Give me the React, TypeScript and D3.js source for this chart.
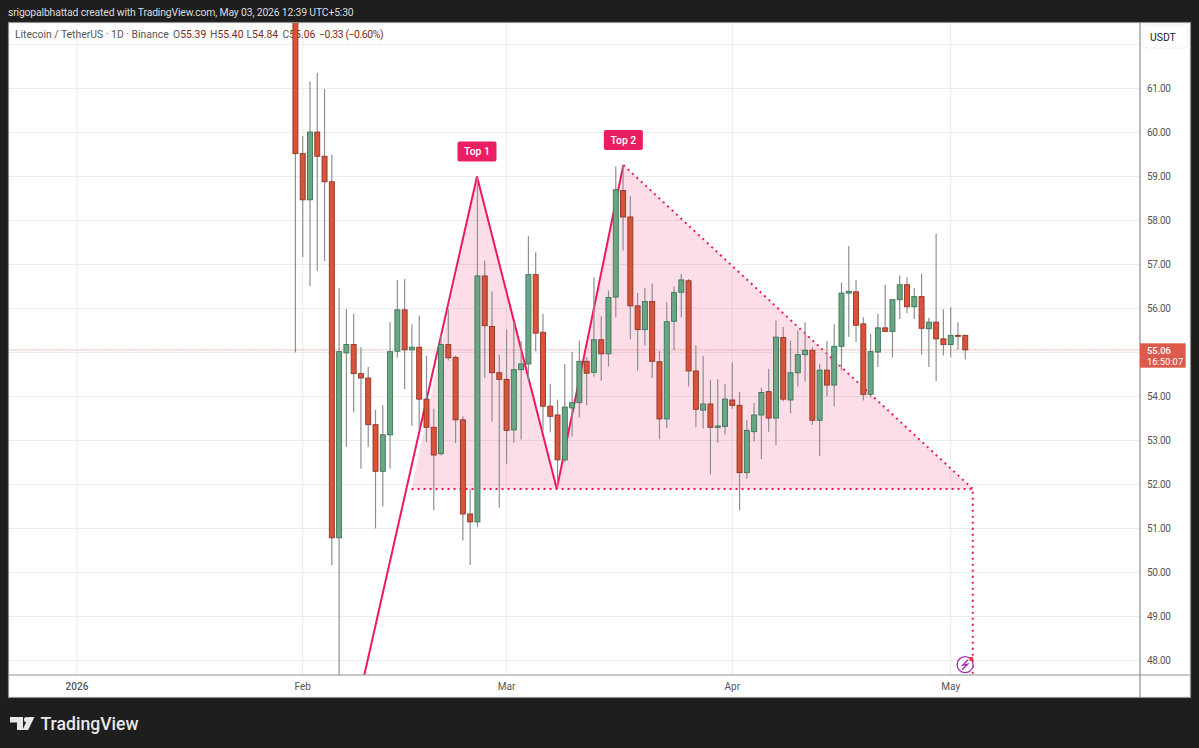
import * as d3 from 'd3';

const FONT = 'Roboto, "Noto Sans", sans-serif';

// one candle per day, counted from Feb 1 2026 (first candle is Jan 31)
const firstDay = -1;
const opens = [64.0, 59.52, 58.47, 60.01, 59.46, 58.88, 50.79, 54.99, 55.18, 54.52, 54.42, 53.36, 52.3, 53.13, 55.03, 55.97, 55.06, 55.12, 53.94, 53.3, 52.7, 55.18, 54.89, 53.47, 51.33, 51.15, 56.74, 55.59, 54.54, 54.39, 53.24, 54.61, 54.74, 56.77, 55.46, 53.78, 53.58, 52.56, 53.74, 53.86, 54.8, 54.55, 55.29, 54.97, 56.26, 58.68, 58.08, 56.06, 55.52, 56.16, 54.79, 53.49, 55.71, 56.37, 56.63, 54.58, 53.69, 53.83, 53.3, 53.32, 53.92, 53.8, 52.27, 53.2, 53.58, 54.11, 53.51, 55.34, 53.92, 54.54, 54.95, 55.05, 53.46, 54.6, 54.26, 55.14, 56.35, 56.38, 55.65, 54.05, 55.01, 55.56, 55.48, 56.2, 56.54, 56.04, 56.27, 55.54, 55.69, 55.31, 55.18, 55.39, 55.39];
const highs = [65.0, 59.92, 61.16, 61.36, 60.99, 59.49, 56.46, 55.99, 55.88, 55.12, 54.67, 53.7, 53.8, 55.69, 56.65, 56.67, 55.64, 55.84, 54.93, 53.72, 55.39, 55.99, 54.93, 53.55, 51.9, 58.98, 57.09, 56.39, 54.95, 55.52, 55.69, 55.26, 57.64, 57.27, 55.88, 54.29, 53.93, 54.74, 55.01, 55.27, 54.9, 56.71, 55.82, 56.41, 59.23, 59.25, 58.55, 56.35, 56.47, 56.57, 55.03, 56.14, 56.5, 56.79, 56.67, 55.16, 54.92, 54.38, 54.39, 54.29, 54.77, 54.1, 53.47, 53.85, 54.2, 54.63, 55.73, 55.58, 55.27, 55.5, 55.69, 55.12, 54.74, 55.26, 55.64, 56.59, 57.42, 56.65, 55.8, 55.42, 55.88, 56.54, 56.2, 56.75, 56.71, 56.46, 56.79, 55.79, 57.7, 55.98, 56.03, 55.69, 55.4];
const lows = [55.0, 57.17, 56.51, 56.86, 57.08, 50.17, 47.3, 52.86, 53.64, 52.36, 52.85, 51.0, 51.5, 52.36, 54.88, 54.17, 53.33, 53.23, 52.96, 51.42, 52.66, 54.82, 52.94, 50.73, 50.17, 51.03, 54.42, 53.43, 51.47, 52.47, 52.95, 53.02, 54.36, 55.03, 53.23, 53.19, 51.9, 52.51, 53.09, 53.53, 53.8, 54.45, 54.36, 54.68, 55.8, 57.32, 55.3, 54.59, 55.16, 54.42, 53.03, 53.28, 55.05, 55.8, 54.23, 53.3, 53.27, 52.23, 52.95, 53.13, 53.72, 51.41, 52.13, 52.98, 52.58, 53.2, 52.9, 53.89, 53.62, 54.23, 54.34, 53.35, 52.65, 54.0, 53.78, 54.59, 55.35, 55.24, 53.91, 53.98, 54.67, 55.48, 54.89, 55.76, 55.89, 55.76, 54.95, 54.67, 54.35, 54.93, 54.89, 55.06, 54.84];
const closes = [59.52, 58.47, 60.01, 59.46, 58.88, 50.79, 55.02, 55.18, 54.52, 54.42, 53.36, 52.3, 53.13, 55.02, 55.97, 55.06, 55.12, 53.94, 53.3, 52.67, 55.18, 54.88, 53.47, 51.33, 51.15, 56.74, 55.61, 54.54, 54.39, 53.23, 54.61, 54.74, 56.77, 55.44, 53.78, 53.55, 52.56, 53.76, 53.86, 54.8, 54.53, 55.29, 54.97, 56.25, 58.7, 58.08, 56.06, 55.52, 56.16, 54.8, 53.49, 55.7, 56.36, 56.65, 54.58, 53.71, 53.83, 53.3, 53.33, 53.94, 53.8, 52.27, 53.23, 53.58, 54.09, 53.51, 55.35, 53.94, 54.54, 54.95, 55.05, 53.46, 54.6, 54.26, 55.14, 56.35, 56.39, 55.62, 54.05, 55.02, 55.56, 55.48, 56.2, 56.54, 56.04, 56.27, 55.55, 55.69, 55.31, 55.18, 55.39, 55.38, 55.06];

const priceTicks = [48, 49, 50, 51, 52, 53, 54, 55, 56, 57, 58, 59, 60, 61];
const gridOnlyPrice = 62;
const dateTickDays = [-31, 0, 28, 59, 89];
const dateTickLabels = ['2026', 'Feb', 'Mar', 'Apr', 'May'];

const lastPrice = 55.06;
const countdown = '16:50:07';

// double top drawing: [day, price]
const legRise: [number, number] = [8.46, 47.67];
const top1: [number, number] = [23.94, 59.0];
const trough: [number, number] = [34.9, 51.9];
const top2: [number, number] = [44.04, 59.26];
const neckStart: [number, number] = [14.95, 51.9];
const neckEnd: [number, number] = [92.03, 51.9];
const targetEnd: [number, number] = [92.03, 47.67];

const PINK = '#f0175f';
const RED = '#d9533a';
const RED_EDGE = '#8f3526';
const GREEN = '#6ba684';
const GREEN_EDGE = '#3a7657';
const GRID = '#ececec';
const BORDER = '#8f8f8f';

const left = 8.5;
const right = 1190.5;
const top = 22.5;
const bottom = 697.5;
const axisX = 1140;
const axisY = 675;

const x = d3.scaleLinear().domain([0, 89]).range([302.7, 950.7]);
const y = d3.scaleLinear().domain([48, 61]).range([660.5, 88.5]);

export default function App() {
  const line = d3.line<[number, number]>().x((d) => x(d[0])).y((d) => y(d[1]));
  const fillPath = line([neckStart, top1, trough, top2, neckEnd]) + 'Z';
  const lx = x(targetEnd[0]);
  const iconX = x(90.98);
  const iconY = 664.7;

  return (
    <svg
      width={1199}
      height={748}
      style={{ position: 'fixed', left: 0, top: 0, display: 'block' }}
      fontFamily={FONT}
    >
      <defs>
        <clipPath id="pane">
          <rect x={left} y={top} width={axisX - left} height={axisY - top} />
        </clipPath>
      </defs>
      <rect width={1199} height={748} fill="#1e1e1e" />
      <rect x={left} y={top} width={right - left} height={bottom - top} fill="#fff" />

      <text x={8} y={15.8} fontSize={10.4} letterSpacing={-0.16} fill="#dcdcdc">
        srigopalbhattad created with TradingView.com, May 03, 2026 12:39 UTC+5:30
      </text>

      {/* grid */}
      <g stroke={GRID} strokeWidth={1}>
        {[...priceTicks, gridOnlyPrice].map((t) => (
          <line key={t} x1={left} x2={axisX} y1={y(t)} y2={y(t)} />
        ))}
        {dateTickDays.map((d) => (
          <line key={d} x1={x(d)} x2={x(d)} y1={top} y2={axisY} />
        ))}
      </g>

      {/* legend */}
      <g fontSize={10.4} fill="#555">
        <text x={15} y={38}>Litecoin / TetherUS · 1D · Binance</text>
        <text x={173} y={38}>O<tspan fill="#7a2a20">55.39</tspan></text>
        <text x={210} y={38}>H<tspan fill="#7a2a20">55.40</tspan></text>
        <text x={246.5} y={38}>L<tspan fill="#7a2a20">54.84</tspan></text>
        <text x={282.5} y={38}>C<tspan fill="#7a2a20">55.06</tspan></text>
        <text x={319} y={38} fill="#7a2a20" letterSpacing={-0.4}>−0.33 (−0.60%)</text>
      </g>

      <g clipPath="url(#pane)">
        {/* pattern */}
        <path d={fillPath} fill="#e91e63" fillOpacity={0.15} />
        <path d={line([legRise, top1, trough, top2]) ?? ''} fill="none" stroke={PINK} strokeWidth={2} />
        <path
          d={line([top2, neckEnd]) ?? ''}
          fill="none"
          stroke={PINK}
          strokeWidth={2}
          strokeDasharray="2 4"
        />
        <path
          d={line([neckStart, neckEnd, targetEnd]) ?? ''}
          fill="none"
          stroke={PINK}
          strokeWidth={2}
          strokeDasharray="2 4"
        />

        {/* last price line */}
        <line
          x1={left}
          x2={axisX}
          y1={y(lastPrice)}
          y2={y(lastPrice)}
          stroke="#e8604c"
          strokeWidth={1}
          strokeDasharray="1 2"
        />

        {/* candles */}
        {closes.map((c, i) => {
          const o = opens[i];
          const up = c >= o;
          const cx = x(firstDay + i);
          const bodyTop = y(Math.max(o, c));
          const bodyH = Math.max(1, Math.abs(y(o) - y(c)));
          return (
            <g key={i}>
              <line
                x1={cx}
                x2={cx}
                y1={y(highs[i])}
                y2={y(lows[i])}
                stroke="#8f8f8f"
                strokeWidth={1.2}
              />
              <rect
                x={cx - 2.5}
                y={bodyTop}
                width={5}
                height={bodyH}
                fill={up ? GREEN : RED}
                stroke={up ? GREEN_EDGE : RED_EDGE}
                strokeWidth={0.9}
              />
            </g>
          );
        })}
      </g>

      {/* top labels */}
      {[
        { text: 'Top 1', p: top1 },
        { text: 'Top 2', p: top2 },
      ].map((l) => (
        <g key={l.text} transform={`translate(${x(l.p[0])},${y(l.p[1]) - 25})`}>
          <rect x={-19.5} y={-10} width={39} height={20} rx={2} fill="#e91e63" />
          <text textAnchor="middle" y={3.5} fontSize={10.4} fontWeight={500} fill="#fff">
            {l.text}
          </text>
        </g>
      ))}

      {/* target marker */}
      <g>
        <circle cx={iconX} cy={iconY} r={8} fill="#fff" stroke="#9c27b0" strokeWidth={1.3} />
        <path
          d={`M${iconX + 3},${iconY - 5} L${iconX - 2.5},${iconY + 0.6} L${iconX + 2.5},${iconY - 0.6} L${iconX - 3},${iconY + 5}`}
          fill="none"
          stroke="#9c27b0"
          strokeWidth={1.3}
        />
        <circle cx={lx - 1.5} cy={659} r={2.2} fill="#f23645" />
      </g>

      {/* frame */}
      <g stroke={BORDER} strokeWidth={1.2} fill="none">
        <rect x={left} y={top} width={right - left} height={bottom - top} />
        <line x1={axisX} x2={axisX} y1={top} y2={bottom} />
        <line x1={left} x2={right} y1={axisY} y2={axisY} />
      </g>

      {/* axes */}
      <g fontSize={10} fill="#555">
        {priceTicks.map((t) => (
          <text key={t} x={1147} y={y(t) + 3.6} letterSpacing={-0.3}>
            {d3.format('.2f')(t)}
          </text>
        ))}
        {dateTickDays.map((d, i) => (
          <text key={d} x={x(d)} y={689.5} textAnchor="middle" fontWeight={i === 0 ? 500 : 400}>
            {dateTickLabels[i]}
          </text>
        ))}
      </g>
      <rect x={1142.7} y={25} width={45} height={23} rx={4} fill="#fff" stroke="#f0f0f0" />
      <text x={1150} y={40.5} fontSize={10.4} fill="#222">USDT</text>

      <rect x={1140} y={343.3} width={45.7} height={24.4} fill="#db5a4b" />
      <text x={1147} y={354} fontSize={9.4} fontWeight={500} fill="#fff">
        {d3.format('.2f')(lastPrice)}
      </text>
      <text x={1147} y={365} fontSize={9.4} fill="#fff">{countdown}</text>

      {/* watermark logo */}
      <path d="M10 717 H23 V730 H17 V722.5 H10 Z" fill="#e8e8e8" />
      <circle cx={26.6} cy={719.6} r={2.7} fill="#e8e8e8" />
      <path d="M28 730 L34 717 H40 L33.6 730 Z" transform="translate(-5.5,0)" fill="#e8e8e8" />
      <text x={40.5} y={729.5} fontSize={17.6} fontWeight={500} fill="#e8e8e8">
        TradingView
      </text>
    </svg>
  );
}
